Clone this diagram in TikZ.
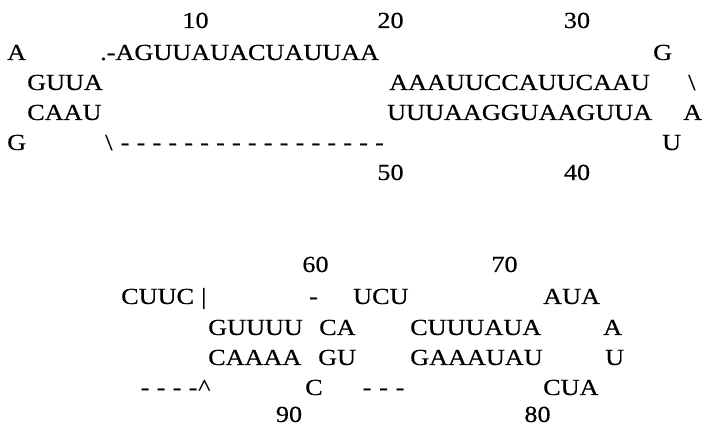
\documentclass[tikz,border=0pt]{standalone}
\usepackage{fontspec}
\setmainfont[FakeStretch=1.14,FakeBold=0.4]{Liberation Serif}
\newcommand\rnafont{\fontsize{23}{23}\selectfont}
\tikzset{
  seq/.style={anchor=base west,inner sep=0pt,font=\rnafont},
  num/.style={anchor=base,inner sep=0pt,font=\rnafont}
}
\begin{document}
\begin{tikzpicture}[x=1pt,y=-1pt]
    \useasboundingbox (0,0) rectangle (705,427);
    % upper hairpin
    \node[num] (n10) at (195.5,28) {10}; \node[num] (n20) at (390.5,28) {20}; \node[num] (n30) at (577,28) {30};
    \node[num] (n50) at (390.5,180) {50}; \node[num] (n40) at (577,180) {40};
    \node[seq] (a1) at (7,60) {A};
    \node[seq] (s1) at (100,60) {.-AGUUAUACUAUUAA};
    \node[seq] (g1) at (653,60) {G};
    \node[seq] (s2) at (27,90) {GUUA};
    \node[seq] (s3) at (389,90) {AAAUUCCAUUCAAU};
    \node[seq] (b1) at (688,90) {\textbackslash};
    \node[seq] (s4) at (27,120) {CAAU};
    \node[seq] (s5) at (387,120) {UUUAAGGUAAGUUA};
    \node[seq] (a2) at (683,120) {A};
    \node[seq] (g2) at (7,150) {G};
    \node[seq] (b2) at (105,150) {\textbackslash};
    \foreach \i in {0,...,16} \node[seq] (d\i) at (120.5+15.9*\i,150) {-};
    \node[seq] (u1) at (662,150) {U};
    % lower hairpin
    \node[num] (n60) at (315.5,272) {60}; \node[num] (n70) at (504.5,272) {70};
    \node[num] (n90) at (289,422) {90}; \node[num] (n80) at (537.5,422) {80};
    \node[seq] (s6) at (121,304) {CUUC};
    \node[seq] (bar) at (201,304) {|};
    \node[seq] (h1) at (309,304) {-};
    \node[seq] (s7) at (353,304) {UCU};
    \node[seq] (s8) at (543,304) {AUA};
    \node[seq] (s9) at (208,335) {GUUUU};
    \node[seq] (s10) at (319,335) {CA};
    \node[seq] (s11) at (410,335) {CUUUAUA};
    \node[seq] (a3) at (603,335) {A};
    \node[seq] (s12) at (208,365) {CAAAA};
    \node[seq] (s13) at (318,365) {GU};
    \node[seq] (s14) at (410,365) {GAAAUAU};
    \node[seq] (u2) at (605,365) {U};
    \foreach \i in {0,...,3} \node[seq] (e\i) at (140.5+16*\i,395) {-};
    \node[seq] (hat) at (198,395) {\textasciicircum};
    \node[seq] (c1) at (305,395) {C};
    \foreach \i in {0,...,2} \node[seq] (f\i) at (362.5+16.5*\i,395) {-};
    \node[seq] (s15) at (543,395) {CUA};
\end{tikzpicture}
\end{document}
